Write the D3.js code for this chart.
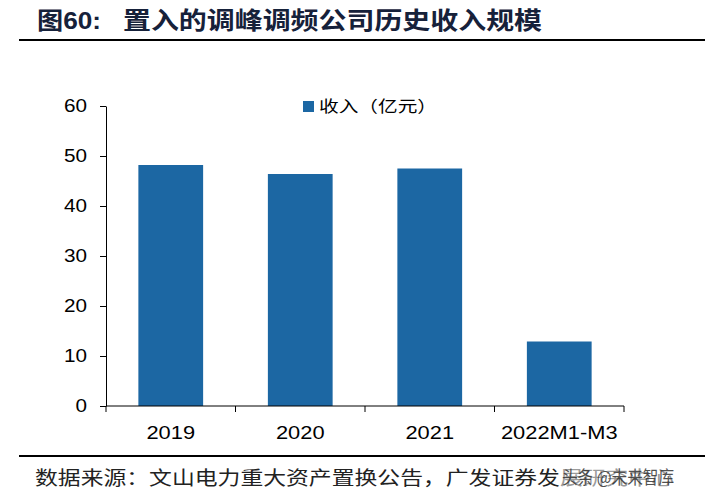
<!DOCTYPE html>
<html>
<head>
<meta charset="utf-8">
<script src="https://cdn.jsdelivr.net/npm/d3@7"></script>
<style>
  body { margin: 0; background: #fff; }
  svg { display: block; }
</style>
</head>
<body>
<div id="chart"></div>
<script>
// data
const categories = ["2019", "2020", "2021", "2022M1-M3"];
const revenue = [48.2, 46.4, 47.5, 12.9];
const yTicks = [0, 10, 20, 30, 40, 50, 60];
const seriesName = "收入（亿元）";
const titleHead = "图60:";
const titleText = "置入的调峰调频公司历史收入规模";
const sourceText = "数据来源：文山电力重大资产置换公告，广发证券发展研究中心";
const watermark = "头条 @未来智库";

const width = 705, height = 498;
const plot = {left: 106, right: 624, top: 106, bottom: 406};
const barColor = "#1c67a3";
const sx = 1.15; // the picture is a little wider than tall

const svg = d3.select("#chart").append("svg")
    .attr("width", width)
    .attr("height", height);

// title + rules
svg.append("text")
    .attr("x", 37).attr("y", 29)
    .attr("textLength", 64).attr("lengthAdjust", "spacingAndGlyphs")
    .style("font-family", "Arial, 'Liberation Sans', 'Noto Sans CJK SC'")
    .style("font-size", "24px").style("font-weight", "bold")
    .style("fill", "#16213a")
    .text(titleHead);
svg.append("text")
    .attr("x", 123).attr("y", 29)
    .attr("textLength", 419).attr("lengthAdjust", "spacingAndGlyphs")
    .style("font-family", "'Noto Sans CJK SC'")
    .style("font-size", "24px").style("font-weight", "bold")
    .style("fill", "#16213a")
    .text(titleText);

svg.append("line").attr("x1", 19).attr("x2", width).attr("y1", 40).attr("y2", 40)
    .style("stroke", "#000").style("stroke-width", 2);
svg.append("line").attr("x1", 19).attr("x2", width).attr("y1", 456).attr("y2", 456)
    .style("stroke", "#000").style("stroke-width", 2);

// source line
svg.append("text")
    .attr("x", 35).attr("y", 485)
    .attr("textLength", 639).attr("lengthAdjust", "spacingAndGlyphs")
    .style("font-family", "'Noto Sans CJK SC'")
    .style("font-size", "19px")
    .style("fill", "#222")
    .text(sourceText);
// watermark overlapping the end of the source line
svg.append("rect")
    .attr("x", 560).attr("y", 466).attr("width", 116).attr("height", 24)
    .style("fill", "#fff").style("opacity", 0.55);
svg.append("text")
    .attr("x", 562).attr("y", 484)
    .attr("textLength", 112).attr("lengthAdjust", "spacingAndGlyphs")
    .style("font-family", "'Noto Sans CJK SC'")
    .style("font-size", "18px")
    .style("fill", "#333").style("opacity", 0.85)
    .text(watermark);

// scales
const x = d3.scaleBand()
    .domain(categories)
    .range([plot.left, plot.right])
    .paddingInner(0.5).paddingOuter(0.25);

const y = d3.scaleLinear()
    .domain([0, 60])
    .range([plot.bottom, plot.top]);

// bars
svg.append("g").selectAll("rect")
    .data(categories)
    .join("rect")
    .attr("x", d => x(d))
    .attr("y", (d, i) => y(revenue[i]))
    .attr("width", x.bandwidth())
    .attr("height", (d, i) => y(0) - y(revenue[i]))
    .style("fill", barColor);

// y axis
const yAxis = svg.append("g")
    .attr("transform", `translate(${plot.left},0)`)
    .call(d3.axisLeft(y).tickValues(yTicks).tickSize(6).tickPadding(13).tickSizeOuter(0));
yAxis.select(".domain").style("stroke", "#000");
yAxis.selectAll(".tick line").style("stroke", "#000");
yAxis.selectAll(".tick text")
    .attr("x", -19 / sx)
    .attr("transform", `scale(${sx},1)`)
    .style("font-family", "Arial, 'Liberation Sans'")
    .style("font-size", "18px")
    .style("fill", "#000");

// x axis: line plus ticks between the categories
const xAxis = svg.append("g")
    .attr("transform", `translate(0,${plot.bottom})`);
xAxis.append("line")
    .attr("x1", plot.left).attr("x2", plot.right)
    .style("stroke", "#000");
const bounds = categories.map(c => x(c) - x.step() * x.paddingInner() / 2)
    .concat([plot.right]);
bounds[0] = plot.left;
xAxis.selectAll(".xtick")
    .data(bounds)
    .join("line")
    .attr("class", "xtick")
    .attr("x1", d => d).attr("x2", d => d)
    .attr("y1", 0).attr("y2", 6)
    .style("stroke", "#000");
xAxis.selectAll(".xlabel")
    .data(categories)
    .join("text")
    .attr("class", "xlabel")
    .attr("transform", d => `translate(${x(d) + x.bandwidth() / 2},33) scale(${sx},1)`)
    .attr("text-anchor", "middle")
    .style("font-family", "Arial, 'Liberation Sans'")
    .style("font-size", "19px")
    .style("fill", "#000")
    .text(d => d);

// legend
const legend = svg.append("g").attr("transform", "translate(303,101)");
legend.append("rect")
    .attr("width", 11).attr("height", 11)
    .style("fill", barColor);
legend.append("text")
    .attr("x", 16).attr("y", 11)
    .attr("textLength", 118).attr("lengthAdjust", "spacingAndGlyphs")
    .style("font-family", "'Noto Sans CJK SC'")
    .style("font-size", "16px")
    .style("fill", "#000")
    .text(seriesName);
</script>
</body>
</html>
